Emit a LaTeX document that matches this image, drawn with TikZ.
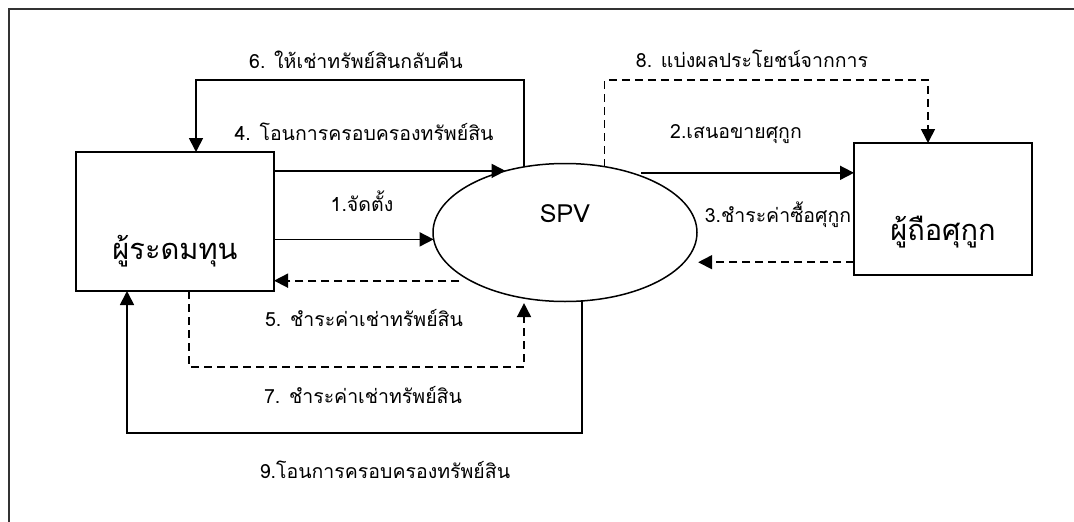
\documentclass[tikz,border=0pt]{standalone}
\usepackage{fontspec}
\setmainfont[Script=Thai]{Loma}
\usetikzlibrary{arrows.meta,shapes.geometric}
\begin{document}
\begin{tikzpicture}[x=1pt,y=-1pt,
  ln/.style={line width=1.7pt},
  arr/.style={ln,-{Triangle[length=14pt,width=14pt]}},
  darr/.style={arr,dash pattern=on 8pt off 5pt},
  boxnode/.style={draw,ln,inner sep=0pt,outer sep=0pt,font=\fontsize{29}{34}\selectfont},
  lbl/.style={anchor=base,inner sep=0pt,font=\fontsize{19.5}{23}\selectfont}]
\useasboundingbox (0,0) rectangle (1074,522);
\draw[line width=1.6pt,black!80] (1074,9) -- (9,9) -- (9,522);
% nodes
\node[boxnode,minimum width=198pt,minimum height=139pt,text height=75pt,text depth=0pt] (lbox) at (175,221.5) {ผู้ระดมทุน};
\node[boxnode,minimum width=178pt,minimum height=132pt,text height=62pt,text depth=0pt] (rbox) at (943,209) {ผู้ถือศุกูก};
\node[ellipse,draw,line width=1.5pt,inner sep=0pt,outer sep=0pt,minimum width=264pt,minimum height=138pt,text height=0pt,text depth=19.6pt,font=\fontsize{25}{30}\selectfont] (spv) at (565,232.5) {SPV};
% helper corners
\coordinate (c6) at (196,80);
\coordinate (c8) at (928,80);
\coordinate (c5) at (189,367);
\coordinate (c9) at (127,433);
% connectors
\draw[arr] (spv.122) |- (c6) -- (c6 |- lbox.north);
\draw[arr] (spv.134 -| lbox.east) -- (spv.134);
\draw[arr] (spv.183 -| lbox.east) -- (spv.183);
\draw[darr] ([xshift=-11pt]spv.207) -- (spv.207 -| lbox.east);
\draw[darr,shorten >=5pt] (c5 |- lbox.south) -- (c5) -| (spv.-122);
\draw[arr] (spv.-76) |- (c9) -- (c9 |- lbox.south);
\draw[arr] ([xshift=10pt]spv.42) -- (spv.42 -| rbox.west);
\draw[darr] (spv.59) |- (c8) -- (c8 |- rbox.north);
\draw[darr] (spv.-14 -| rbox.west) -- ([xshift=14pt]spv.-14);
% labels
\node[lbl] (l6) at (356,68) {6. ให้เช่าทรัพย์สินกลับคืน};
\node[lbl] (l4) at (364,140) {4. โอนการครอบครองทรัพย์สิน};
\node[lbl] (l1) at (362,211) {1.จัดตั้ง};
\node[lbl] (l5) at (364,326.7) {5. ชำระค่าเช่าทรัพย์สิน};
\node[lbl] (l7) at (363,403) {7. ชำระค่าเช่าทรัพย์สิน};
\node[lbl] (l9) at (385,478) {9.โอนการครอบครองทรัพย์สิน};
\node[lbl] (l2) at (736,138) {2.เสนอขายศุกูก};
\node[lbl] (l8) at (752,67) {8. แบ่งผลประโยชน์จากการ};
\node[lbl] (l3) at (778,222) {3.ชำระค่าซื้อศุกูก};
\end{tikzpicture}
\end{document}
